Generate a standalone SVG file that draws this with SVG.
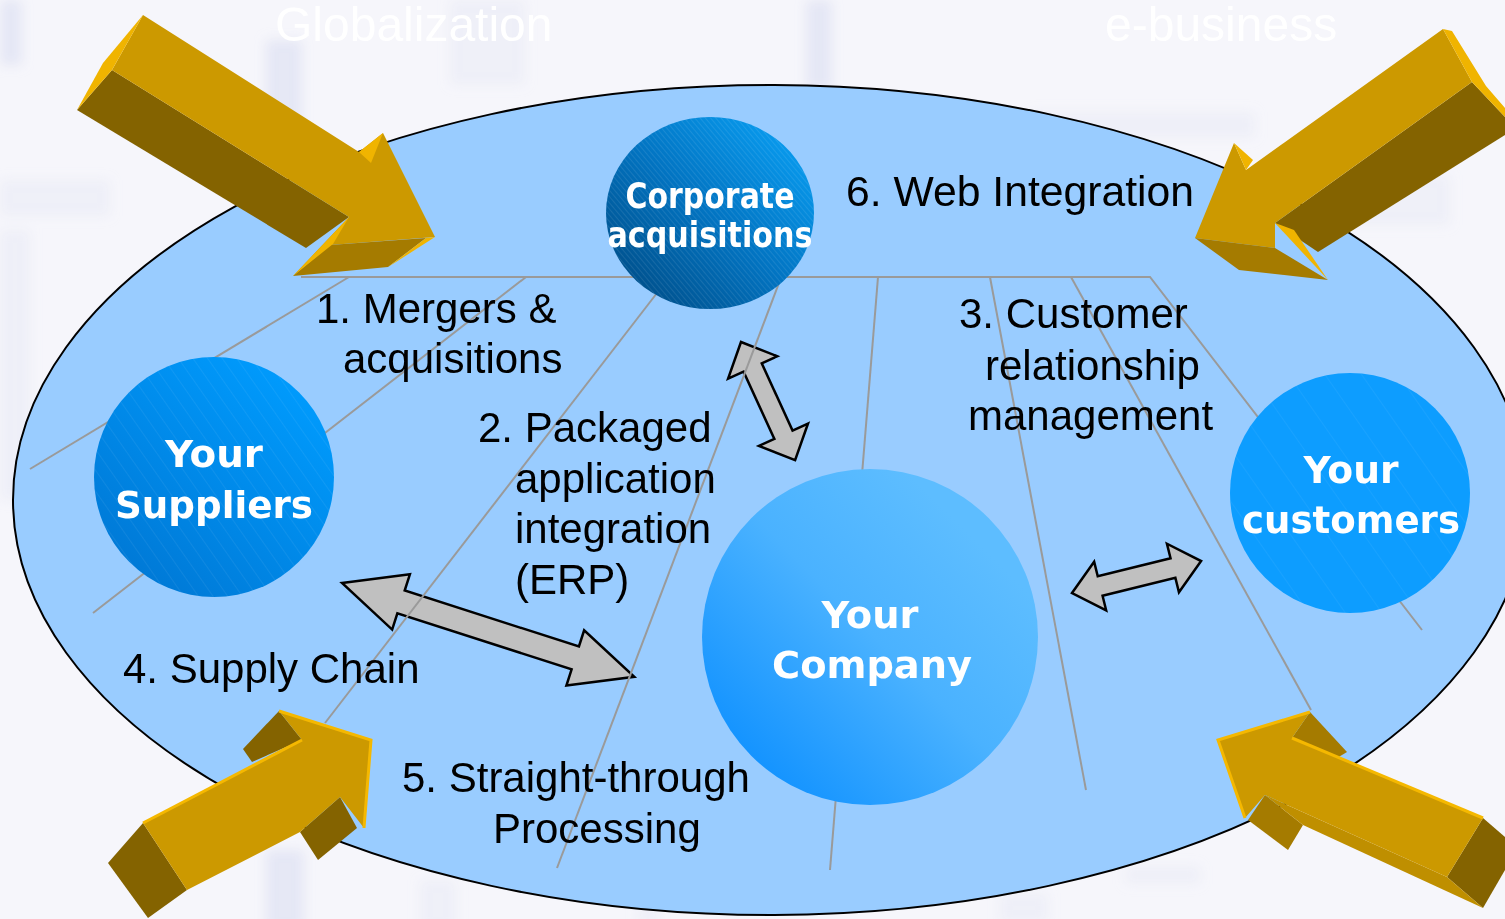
<svg xmlns="http://www.w3.org/2000/svg" width="1505" height="919" viewBox="0 0 1505 919">
<defs>
<style>
.lbl{font-family:"Liberation Sans",Arial,sans-serif;font-size:42px;fill:#000}
.nd{font-family:"DejaVu Sans",Verdana,sans-serif;font-weight:bold;fill:#fff;text-anchor:middle}
.fan{stroke:#9a9a9a;stroke-width:2;fill:none}
.dbl{fill:#c0c0c0;stroke:#000;stroke-width:2.5;stroke-linejoin:miter}
.gtop{fill:#cc9900}
.gdark{fill:#846300}
.gmid{fill:#a57b00}
.gband{fill:#bf8f00}
.gbright{fill:#f0b400}
.gedge{stroke:#f5b800;stroke-width:3;fill:none}
.bar{fill:#d6daf0;opacity:0.5}
.bar2{fill:#dfe2f3;opacity:0.3}
</style>
<filter id="blur" x="-50%" y="-50%" width="200%" height="200%"><feGaussianBlur stdDeviation="6"/></filter>
<linearGradient id="corpG" x1="0.1" y1="0.9" x2="0.9" y2="0.1">
<stop offset="0" stop-color="#004f8a"/><stop offset="0.5" stop-color="#0274c2"/><stop offset="1" stop-color="#089cf0"/>
</linearGradient>
<linearGradient id="suppG" x1="0.15" y1="0.9" x2="0.8" y2="0.1">
<stop offset="0" stop-color="#0079d6"/><stop offset="1" stop-color="#009afc"/>
</linearGradient>
<linearGradient id="compG" x1="0.15" y1="0.85" x2="0.8" y2="0.2">
<stop offset="0" stop-color="#1594ff"/><stop offset="0.55" stop-color="#4ab2ff"/><stop offset="1" stop-color="#5dbdff"/>
</linearGradient>
<pattern id="hatchD" patternUnits="userSpaceOnUse" width="4" height="4" patternTransform="rotate(-40)">
<line x1="0" y1="0" x2="0" y2="4" stroke="#ffffff" stroke-opacity="0.18" stroke-width="1"/>
</pattern>
<pattern id="hatchS" patternUnits="userSpaceOnUse" width="12" height="12" patternTransform="rotate(-35)">
<line x1="0" y1="0" x2="0" y2="12" stroke="#ffffff" stroke-opacity="0.12" stroke-width="1"/>
</pattern>
<pattern id="hatchW" patternUnits="userSpaceOnUse" width="30" height="30" patternTransform="rotate(-35)">
<line x1="0" y1="0" x2="0" y2="30" stroke="#ffffff" stroke-opacity="0.1" stroke-width="1"/>
</pattern>
</defs>

<!-- background -->
<rect x="0" y="0" width="1505" height="919" fill="#f6f6fb"/>
<g id="background-bars" filter="url(#blur)">
<rect class="bar" x="266" y="40" width="36" height="250"/>
<rect class="bar" x="806" y="0" width="26" height="90"/>
<rect class="bar2" x="0" y="180" width="110" height="36"/>
<rect class="bar2" x="0" y="230" width="30" height="270"/>
<rect class="bar" x="0" y="0" width="22" height="65"/>
<rect class="bar2" x="450" y="0" width="75" height="85" opacity="0.12"/>
<rect class="bar2" x="1030" y="112" width="225" height="26" opacity="0.15"/>
<rect class="bar2" x="1350" y="175" width="100" height="50" opacity="0.12"/>
<rect class="bar" x="266" y="850" width="38" height="80"/>
<rect class="bar2" x="420" y="880" width="36" height="50"/>
<rect class="bar2" x="638" y="905" width="20" height="20"/>
<rect class="bar2" x="1125" y="866" width="75" height="18" opacity="0.2"/>
<rect class="bar2" x="1000" y="893" width="48" height="30"/>
</g>
<g id="titles" font-family="'Liberation Sans',Arial,sans-serif" font-size="48" fill="#ffffff">
<text x="275" y="41">Globalization</text>
<text x="1105" y="41">e-business</text>
</g>

<!-- big ellipse -->
<ellipse id="field" cx="770" cy="500" rx="757" ry="415" fill="#99ccff" stroke="#000" stroke-width="2"/>

<!-- connectors -->
<g id="connectors">
<polygon class="dbl" transform="translate(741,342) rotate(65.4)" points="0,0 28,-27 28,-10 102,-10 102,-27 130,0 102,27 102,10 28,10 28,27"/>
<polygon class="dbl" transform="translate(342,583) rotate(17.8)" points="0,0 62,-29 62,-12 245,-12 245,-29 307,0 245,29 245,12 62,12 62,29"/>
<polygon class="dbl" transform="translate(1072,593) rotate(-13.9)" points="0,0 29,-25 29,-10 104,-10 104,-25 133,0 104,25 104,10 29,10 29,25"/>
<polyline class="fan" points="301,277 1150,277 1422,630"/>
<line class="fan" x1="349" y1="277" x2="30" y2="469"/>
<line class="fan" x1="526" y1="277" x2="93" y2="613"/>
<line class="fan" x1="657" y1="293" x2="325" y2="723"/>
<line class="fan" x1="779" y1="283" x2="557" y2="868"/>
<line class="fan" x1="878" y1="277" x2="830" y2="870"/>
<line class="fan" x1="990" y1="277" x2="1086" y2="790"/>
<line class="fan" x1="1071" y1="277" x2="1311" y2="710"/>
</g>

<!-- nodes -->
<g id="node-corporate">
<ellipse cx="710" cy="213" rx="104" ry="96" fill="url(#corpG)"/>
<ellipse cx="710" cy="213" rx="104" ry="96" fill="url(#hatchD)"/>
<text class="nd" x="710" y="208" font-size="36" textLength="169" lengthAdjust="spacingAndGlyphs">Corporate</text>
<text class="nd" x="710" y="247" font-size="36" textLength="205" lengthAdjust="spacingAndGlyphs">acquisitions</text>
</g>
<g id="node-suppliers">
<ellipse cx="214" cy="477" rx="120" ry="120" fill="url(#suppG)"/>
<ellipse cx="214" cy="477" rx="120" ry="120" fill="url(#hatchS)"/>
<text class="nd" x="214" y="467" font-size="38" textLength="98" lengthAdjust="spacingAndGlyphs">Your</text>
<text class="nd" x="214" y="518" font-size="38" textLength="198" lengthAdjust="spacingAndGlyphs">Suppliers</text>
</g>
<g id="node-company">
<circle cx="870" cy="637" r="168" fill="url(#compG)"/>
<text class="nd" x="870" y="628" font-size="38" textLength="97" lengthAdjust="spacingAndGlyphs">Your</text>
<text class="nd" x="872" y="678" font-size="38" textLength="200" lengthAdjust="spacingAndGlyphs">Company</text>
</g>
<g id="node-customers">
<ellipse cx="1350" cy="493" rx="120" ry="120" fill="#0d9dff"/>
<ellipse cx="1350" cy="493" rx="120" ry="120" fill="url(#hatchW)"/>
<text class="nd" x="1351" y="483" font-size="38" textLength="95" lengthAdjust="spacingAndGlyphs">Your</text>
<text class="nd" x="1351" y="533" font-size="38" textLength="218" lengthAdjust="spacingAndGlyphs">customers</text>
</g>

<!-- labels -->
<g id="labels">
<text class="lbl" x="846" y="206" font-size="40" textLength="348" lengthAdjust="spacingAndGlyphs">6. Web Integration</text>
<text class="lbl" x="316" y="323">1. Mergers &amp;</text>
<text class="lbl" x="343" y="373">acquisitions</text>
<text class="lbl" x="478" y="442">2. Packaged</text>
<text class="lbl" x="515" y="493">application</text>
<text class="lbl" x="515" y="543">integration</text>
<text class="lbl" x="515" y="594">(ERP)</text>
<text class="lbl" x="959" y="328">3. Customer</text>
<text class="lbl" x="985" y="380">relationship</text>
<text class="lbl" x="968" y="430">management</text>
<text class="lbl" x="123" y="683">4. Supply Chain</text>
<text class="lbl" x="402" y="792">5. Straight-through</text>
<text class="lbl" x="493" y="843">Processing</text>
</g>

<!-- gold arrows -->
<g id="arrow-top-left">
<polygon class="gdark" points="112,70 349,217 306,248 77,110"/>
<polygon class="gtop" points="143,15 359,152 383,133 435,237 330,245 293,276 349,217 112,70"/>
<polygon class="gmid" points="293,276 330,245 426,238 388,267"/>
<polygon class="gbright" points="143,15 103,63 77,110 112,70"/>
<polygon class="gbright" points="359,152 383,133 371,163"/>
<polygon class="gbright" points="293,276 349,217 333,244"/>
<polygon class="gbright" points="435,237 426,238 388,267 396,262"/>
</g>
<g id="arrow-top-right">
<polygon class="gdark" points="1472,82 1505,117 1505,135 1318,252 1275,223"/>
<polygon class="gtop" points="1443,29 1246,170 1234,143 1195,238 1275,248 1275,223 1472,82"/>
<polygon class="gmid" points="1195,238 1239,270 1328,280 1275,248"/>
<polygon class="gbright" points="1443,29 1452,31 1486,86 1505,108 1505,117 1472,82"/>
<polygon class="gbright" points="1234,143 1246,170 1253,160"/>
<polygon class="gbright" points="1275,223 1328,280 1294,230"/>
</g>
<g id="arrow-bottom-left">
<polygon class="gdark" points="143,823 108,863 148,918 187,890"/>
<polygon class="gdark" points="279,711 243,749 252,762 302,740"/>
<polygon class="gdark" points="340,797 357,828 318,860 300,832"/>
<polygon class="gtop" points="143,823 302,740 279,711 371,740 364,828 340,797 300,832 187,890"/>
<polyline class="gedge" points="143,823 302,740"/>
<polyline class="gedge" points="279,711 371,740 364,828"/>
</g>
<g id="arrow-bottom-right">
<polygon class="gmid" points="1310,712 1347,752 1337,758 1292,738"/>
<polygon class="gmid" points="1248,820 1265,795 1303,825 1288,850"/>
<polygon class="gdark" points="1447,877 1483,818 1505,837 1505,870 1483,908"/>
<polygon class="gband" points="1265,795 1447,877 1483,908 1303,825"/>
<polygon class="gtop" points="1292,738 1310,712 1218,740 1245,818 1265,795 1447,877 1483,818"/>
<polyline class="gedge" points="1292,738 1483,818"/>
<polyline class="gedge" points="1310,712 1218,740 1245,818"/>
</g>
</svg>
